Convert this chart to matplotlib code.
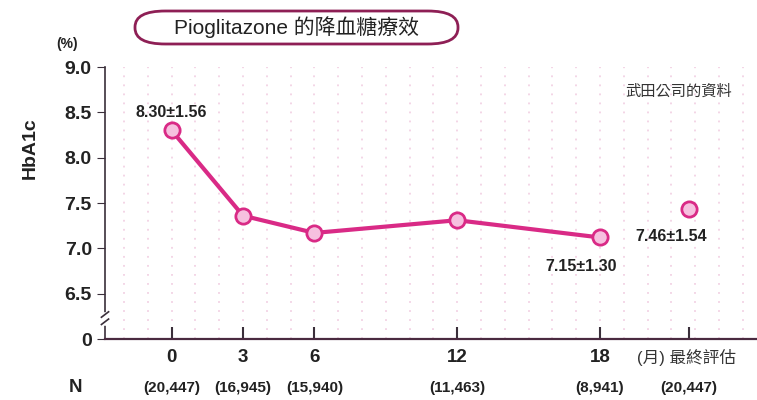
import matplotlib
matplotlib.use("Agg")
import matplotlib.pyplot as plt
from matplotlib.patches import FancyBboxPatch

plt.rcParams['font.family'] = ['Liberation Sans', 'Noto Sans CJK TC', 'DejaVu Sans']

months = [0, 3, 6, 12, 18]
hba1c = [8.30, 7.36, 7.17, 7.31, 7.12]
final_x = 21.75
final_val = 7.43
x_tick_labels = ['0', '3', '6', '12', '18']
n_labels = ['(20,447)', '(16,945)', '(15,940)', '(11,463)', '(8,941)', '(20,447)']
y_ticks = [6.0, 6.5, 7.0, 7.5, 8.0, 8.5, 9.0]
y_tick_labels = ['0', '6.5', '7.0', '7.5', '8.0', '8.5', '9.0']
annots = ['8.30±1.56', '7.15±1.30', '7.46±1.54']

W, H = 757, 400
fig = plt.figure(figsize=(W/100, H/100), dpi=100)
ax = fig.add_axes([105/W, 1-339/H, (757-105)/W, (339-67)/H])
ax.set_xlim(-2.8, 24.6)
ax.set_ylim(6.0, 9.0)

line_c = '#d92a86'
ax.plot(months, hba1c, color=line_c, lw=3, zorder=3)
ax.plot(months + [final_x], hba1c + [final_val], 'o', ms=11, mfc='#f6c0df',
        mec=line_c, mew=2, zorder=4, linestyle='none')

# faint dotted background
for xv in range(-2, 25):
    ax.axvline(xv, color='#f2d2e4', lw=1.3, ls=(0, (1, 4)), zorder=0)

for s in ['top', 'right']:
    ax.spines[s].set_visible(False)
ax.spines['left'].set_color('#3a2f3a')
ax.spines['bottom'].set_color('#4a2a40')
ax.spines['bottom'].set_linewidth(1.6)
ax.spines['left'].set_linewidth(1.2)

ax.set_yticks(y_ticks)
ax.set_yticklabels(y_tick_labels, fontsize=14, fontweight='bold', color='#222')
ax.tick_params(axis='y', direction='out', length=6, color='#3a2f3a')
ax.set_xticks(months + [final_x])
ax.set_xticklabels([])
ax.tick_params(axis='x', direction='in', length=9, width=1.5, color='#3a2f3a')

# axis break mark
ax.plot([-2.8, -2.8], [6.18, 6.27], color='white', lw=4, clip_on=False, zorder=5)
ax.plot([-2.95, -2.65], [6.16, 6.22], color='#3a2f3a', lw=1.2, clip_on=False, zorder=6)
ax.plot([-2.95, -2.65], [6.24, 6.30], color='#3a2f3a', lw=1.2, clip_on=False, zorder=6)

trans = ax.get_xaxis_transform()
for xv, lab in zip(months, x_tick_labels):
    ax.text(xv, -18/272, lab, transform=trans, ha='center', va='center',
            fontsize=13.5, fontweight='bold', color='#222')
ax.text(final_x - 0.1, -18/272, '(月) 最終評估', transform=trans, ha='center', va='center',
        fontsize=12, color='#333')
for xv, lab in zip(months + [final_x], n_labels):
    ax.text(xv, -49/272, lab, transform=trans, ha='center', va='center',
            fontsize=11, fontweight='bold', color='#222')
fig.text(75/W, 1-388/H, 'N', ha='center', va='center', fontsize=13.5, fontweight='bold', color='#222')

ax.text(0, 8.50, annots[0], ha='center', va='center', fontsize=11.5, fontweight='bold', color='#222')
ax.text(17.2, 6.80, annots[1], ha='center', va='center', fontsize=11.5, fontweight='bold', color='#222')
ax.text(21.0, 7.13, annots[2], ha='center', va='center', fontsize=11.5, fontweight='bold', color='#222')
ax.text(21.3, 8.73, '武田公司的資料', ha='center', va='center', fontsize=11, color='#333')

fig.text(30/W, 1-148/H, 'HbA1c', rotation=90, ha='center', va='center',
         fontsize=14, fontweight='bold', color='#222')
fig.text(67/W, 1-44/H, '(%)', ha='center', va='center', fontsize=10, fontweight='bold', color='#222')

box = FancyBboxPatch((135/W, 1-44/H), (458-135)/W, 33/H,
                     boxstyle='round,pad=0,rounding_size=0.04',
                     transform=fig.transFigure, fc='white', ec='#8e1f55', lw=2)
fig.patches.append(box)
fig.text(297/W, 1-27/H, 'Pioglitazone 的降血糖療效', ha='center', va='center',
         fontsize=15, color='#222')

fig.savefig('out.png', dpi=100)
